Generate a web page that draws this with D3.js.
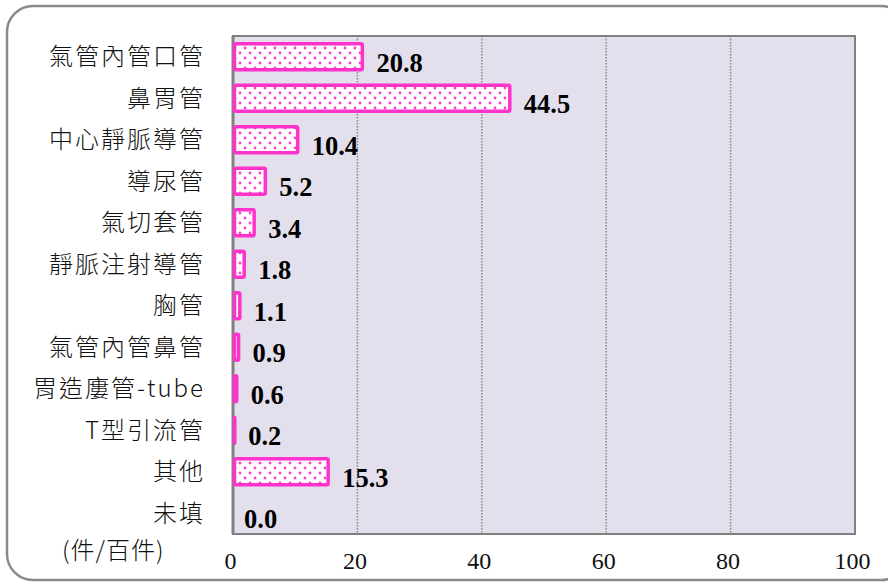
<!DOCTYPE html>
<html>
<head>
<meta charset="utf-8">
<script src="https://cdn.jsdelivr.net/npm/d3@7"></script>
<style>
  body { margin: 0; background: #fff; }
  .cat { font-family: "Noto Sans CJK TC", "Noto Sans", sans-serif; font-size: 24px; letter-spacing: 2px; fill: #111; font-weight: 300; }
  .tick text { font-family: "Liberation Serif", "DejaVu Serif", serif; font-size: 24px; fill: #111; }
  .val { font-family: "Liberation Serif", serif; font-size: 26.5px; font-weight: bold; fill: #000; }
</style>
</head>
<body>
<div id="myChart"></div>
<script>
// categories and values (件/百件)
const categories = ["氣管內管口管", "鼻胃管", "中心靜脈導管", "導尿管", "氣切套管", "靜脈注射導管",
  "胸管", "氣管內管鼻管", "胃造廔管-tube", "T型引流管", "其他", "未填"];
const values = [20.8, 44.5, 10.4, 5.2, 3.4, 1.8, 1.1, 0.9, 0.6, 0.2, 15.3, 0.0];
const xTicks = [0, 20, 40, 60, 80, 100];
const unitLabel = "(件/百件)";

const W = 888, H = 585;
let margin = { top: 36, right: 33, bottom: 51, left: 233 },
    width = W - margin.left - margin.right,
    height = H - margin.top - margin.bottom;

let root = d3.select('#myChart')
    .append('svg')
    .attr('width', W)
    .attr('height', H);

// dotted fill for the bars
let defs = root.append("defs");
let pat = defs.append("pattern")
    .attr("id", "dots")
    .attr("patternUnits", "userSpaceOnUse")
    .attr("width", 10).attr("height", 10);
pat.append("rect").attr("width", 10).attr("height", 10).attr("fill", "#fff");
pat.append("circle").attr("cx", 2).attr("cy", 2).attr("r", 1.4).attr("fill", "#ff3fcc");
pat.append("circle").attr("cx", 7).attr("cy", 7).attr("r", 1.4).attr("fill", "#ff3fcc");

// outer rounded frame
root.append("rect")
    .attr("x", 7).attr("y", 6)
    .attr("width", 900).attr("height", 574)
    .attr("rx", 26).attr("ry", 26)
    .attr("fill", "#fff")
    .attr("stroke", "#8a8a8a")
    .attr("stroke-width", 2.5);

let svg = root.append('g')
    .attr("transform", "translate(" + margin.left + "," + margin.top + ")");

let x = d3.scaleLinear()
    .domain([0, 100])
    .range([0, width]);

let y = d3.scaleBand()
    .domain(categories)
    .range([0, height])
    .paddingInner(0.37)
    .paddingOuter(0.185);

// plot background
svg.append("rect")
    .attr("width", width).attr("height", height)
    .attr("fill", "#e4dfec");

// gridlines
svg.append("g")
    .selectAll("line")
    .data(xTicks.slice(1, -1))
    .enter()
    .append("line")
    .attr("x1", d => x(d)).attr("x2", d => x(d))
    .attr("y1", 0).attr("y2", height)
    .attr("stroke", "#888")
    .attr("stroke-width", 1.5)
    .attr("stroke-dasharray", "1.5,1.5");

// plot border
svg.append("rect")
    .attr("width", width).attr("height", height)
    .attr("fill", "none")
    .attr("stroke", "#808080")
    .attr("stroke-width", 2);
svg.append("line")
    .attr("x1", 0).attr("x2", 0).attr("y1", 0).attr("y2", height)
    .attr("stroke", "#808080").attr("stroke-width", 3);

// X axis
let xAxis = svg.append("g")
    .attr("transform", "translate(0," + height + ")")
    .call(d3.axisBottom(x).tickValues(xTicks).tickSize(0).tickPadding(15));
xAxis.select(".domain").remove();
xAxis.selectAll(".tick text").attr("dy", "0.85em").attr("dx", -3);

// category labels
svg.append("g")
    .selectAll("text")
    .data(categories)
    .enter()
    .append("text")
    .attr("class", "cat")
    .attr("x", -28)
    .attr("y", d => y(d) + y.bandwidth() / 2)
    .attr("dy", "0.36em")
    .attr("text-anchor", "end")
    .text(d => d);

// bars
svg.append("g")
    .selectAll("rect")
    .data(values)
    .enter()
    .append("rect")
    .attr("x", 1.5)
    .attr("y", (d, i) => y(categories[i]))
    .attr("width", d => d > 0 ? Math.max(0.3, x(d) - 1.5) : 0)
    .attr("height", y.bandwidth())
    .attr("rx", 1.5)
    .attr("fill", "url(#dots)")
    .attr("stroke", d => d > 0 ? "#ff33cc" : "none")
    .attr("stroke-width", 3.5);

// value labels
svg.append("g")
    .selectAll("text")
    .data(values)
    .enter()
    .append("text")
    .attr("class", "val")
    .attr("x", d => x(d) + (d > 0 ? 14 : 11))
    .attr("y", (d, i) => y(categories[i]) + y.bandwidth() / 2 + 15)
    .text(d => d.toFixed(1));

// unit label
root.append("text")
    .attr("class", "cat")
    .attr("x", 62)
    .attr("y", 559)
    .style("letter-spacing", "1px")
    .text(unitLabel);
</script>
</body>
</html>
